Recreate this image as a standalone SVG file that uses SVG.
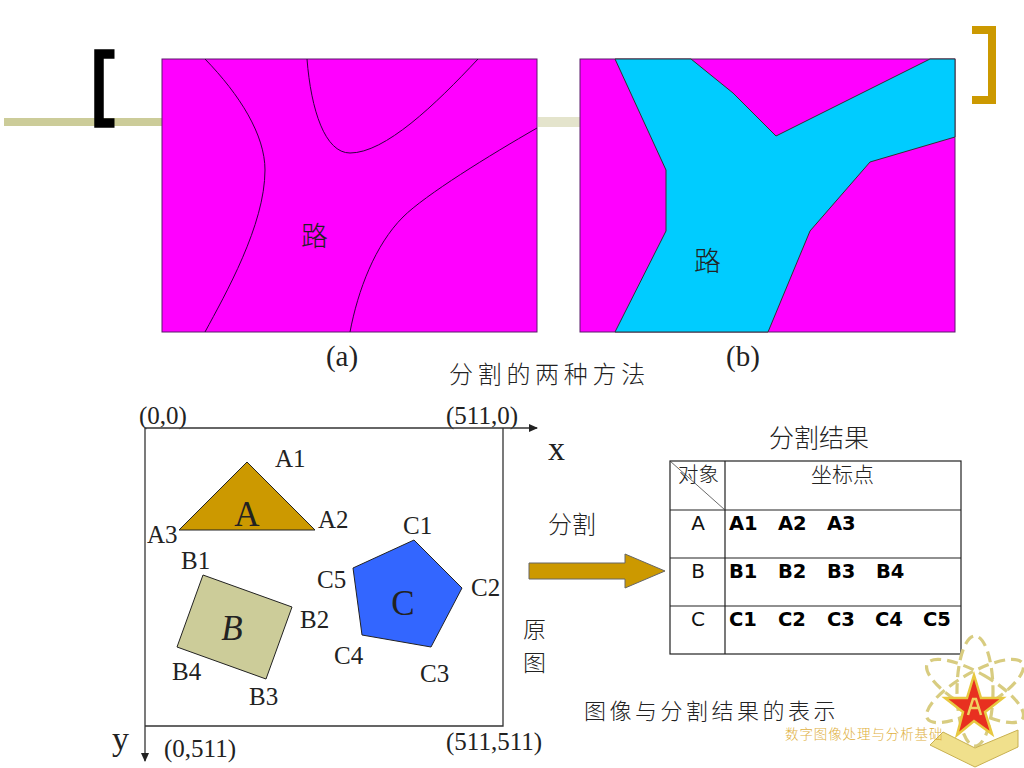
<svg xmlns="http://www.w3.org/2000/svg" width="1024" height="768" viewBox="0 0 1024 768">
<style>
.s{font-family:"Liberation Serif","Noto Sans CJK SC",serif;fill:#222}
.l{font-size:25px}
.c{font-family:"Noto Sans CJK SC",sans-serif;fill:#222;font-weight:300}
.v{font-family:"DejaVu Sans",sans-serif;fill:#111;font-size:20px}
.b{font-family:"DejaVu Sans",sans-serif;fill:#000;font-size:19.5px;font-weight:bold}
.e{fill:none;stroke:#300040;stroke-width:1}
.g{fill:none;stroke:#333;stroke-width:1.3}
.d{fill:none;stroke:#d8cc80;stroke-width:3.2;stroke-dasharray:11 6}
</style>
<defs>
<marker id="ah" markerWidth="10" markerHeight="8" refX="8" refY="4" orient="auto" markerUnits="userSpaceOnUse"><path d="M0 0L9 4L0 8Z" fill="#222"/></marker>
</defs>
<rect width="1024" height="768" fill="#fff"/>
<g id="decor">
<rect x="4" y="118" width="158" height="8" fill="#cccc99"/>
<rect x="538" y="117" width="42" height="10" fill="#e4e4cc"/>
<path d="M114.5 54H99V123H114.5" fill="none" stroke="#000" stroke-width="9.5"/>
<path d="M972 30H992V100H972" fill="none" stroke="#cc9900" stroke-width="8"/>
</g>
<g id="panel-a">
<rect x="162" y="59" width="375" height="273" fill="#ff00ff" stroke="#5a1a6a"/>
<path class="e" d="M205 59C240 95 265 135 265 170C265 225 225 295 205 332"/>
<path class="e" d="M307 59C311 110 325 153 350 153C385 153 435 105 478 59"/>
<path class="e" d="M350 332C358 290 375 245 403 217C425 195 490 155 537 128"/>
<text class="c" x="301" y="246" font-size="27">路</text>
<text class="s" x="342" y="366" text-anchor="middle" font-size="29">(a)</text>
</g>
<g id="panel-b">
<rect x="580" y="59" width="375" height="273" fill="#ff00ff" stroke="#5a1a6a"/>
<path d="M615 59H691L733 93L776 136L930 59H955V137L870 162L810 231L768 332H615L666 231V170Z" fill="#00ccff" stroke="#333"/>
<text class="c" x="694" y="271" font-size="27">路</text>
<text class="s" x="743" y="366" text-anchor="middle" font-size="29">(b)</text>
</g>
<text class="c" x="449" y="383" font-size="24" letter-spacing="4.7">分割的两种方法</text>
<g id="source-frame">
<text class="s l" x="139" y="424">(0,0)</text>
<text class="s l" x="446" y="424">(511,0)</text>
<text class="s" x="548" y="460" font-size="34">x</text>
<text class="s" x="112" y="750" font-size="34">y</text>
<text class="s l" x="164" y="757">(0,511)</text>
<text class="s l" x="446" y="750">(511,511)</text>
<text class="c" x="523" y="638" font-size="23">原</text>
<text class="c" x="523" y="671" font-size="23">图</text>
</g>
<g id="connectors">
<path class="g" d="M145 428H537" marker-end="url(#ah)"/>
<path class="g" d="M145 428V761" marker-end="url(#ah)"/>
<path class="g" d="M503 428V726H145"/>
</g>
<g id="shape-a">
<path d="M247 462L315 530H179Z" fill="#cc9900" stroke="#222"/>
<text class="s" x="247" y="526" text-anchor="middle" font-size="35">A</text>
<text class="s l" x="275" y="467">A1</text><text class="s l" x="318" y="528">A2</text><text class="s l" x="147" y="543">A3</text>
</g>
<g id="shape-b">
<path d="M203 575L292 607L266 679L177 647Z" fill="#cccc99" stroke="#222"/>
<text class="s" x="232" y="640" text-anchor="middle" font-size="35" font-style="italic">B</text>
<text class="s l" x="181" y="569">B1</text><text class="s l" x="300" y="628">B2</text><text class="s l" x="249" y="705">B3</text><text class="s l" x="172" y="680">B4</text>
</g>
<g id="shape-c">
<path d="M414 540L462 588L431 647L362 635L353 568Z" fill="#3366ff" stroke="#222"/>
<text class="s" x="403" y="615" text-anchor="middle" font-size="35">C</text>
<text class="s l" x="403" y="534">C1</text><text class="s l" x="471" y="596">C2</text><text class="s l" x="420" y="682">C3</text><text class="s l" x="334" y="664">C4</text><text class="s l" x="317" y="588">C5</text>
</g>
<g id="split-arrow">
<text class="c" x="548" y="533" font-size="24">分割</text>
<path d="M529 563H625V554L665 571L625 588V579H529Z" fill="#cc9900" stroke="#666"/>
</g>
<g id="result-table">
<text class="c" x="769" y="447" font-size="25">分割结果</text>
<rect x="670" y="461" width="291" height="193" fill="#fff" stroke="#222" stroke-width="1.2"/>
<path d="M725 461V654M670 510H961M670 558H961M670 606H961" fill="none" stroke="#222" stroke-width="1.2"/>
<path d="M670 461L725 510" fill="none" stroke="#444" stroke-width=".8"/>
<text class="c" x="678" y="482" font-size="20.5">对象</text>
<text class="c" x="811" y="482" font-size="21">坐标点</text>
<text class="v" x="698" y="530" text-anchor="middle">A</text><text class="v" x="698" y="578" text-anchor="middle">B</text><text class="v" x="698" y="626" text-anchor="middle">C</text>
<text class="b" x="729" y="530">A1</text><text class="b" x="778" y="530">A2</text><text class="b" x="827" y="530">A3</text>
<text class="b" x="729" y="578">B1</text><text class="b" x="778" y="578">B2</text><text class="b" x="827" y="578">B3</text><text class="b" x="876" y="578">B4</text>
<text class="b" x="729" y="626">C1</text><text class="b" x="778" y="626">C2</text><text class="b" x="827" y="626">C3</text><text class="b" x="875" y="626">C4</text><text class="b" x="923" y="626">C5</text>
</g>
<text class="c" x="584" y="719" font-size="22" letter-spacing="3.5">图像与分割结果的表示</text>
<g id="emblem">
<ellipse cx="975" cy="691" rx="18" ry="55" class="d"/>
<ellipse cx="975" cy="691" rx="18" ry="55" class="d" transform="rotate(60 975 691)"/>
<ellipse cx="975" cy="691" rx="18" ry="55" class="d" transform="rotate(-60 975 691)"/>
<path d="M943 732L975 748L1018 730V747L975 767L930 745Z" fill="#f0e08c" stroke="#c8b050"/>
<path d="M974 675L981 698H1003L985 712L992 734L974 721L957 735L963 712L945 698H967Z" fill="#e83020" stroke="#e8c840" stroke-width="2.5"/>
<path d="M968 715L973 699H976L981 715M969 708H980" fill="none" stroke="#f0d060" stroke-width="2.5"/>
</g>
<text x="785" y="739" font-family="'Noto Sans CJK SC',sans-serif" font-size="13.5" fill="#e0b040" font-weight="300" letter-spacing=".9">数字图像处理与分析基础</text>
</svg>
